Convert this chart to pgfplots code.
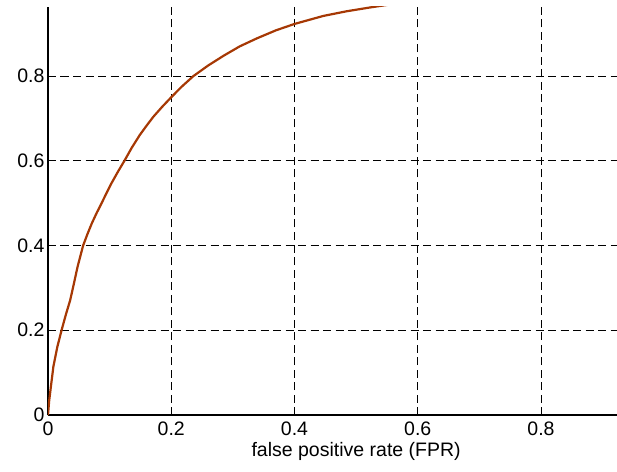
\documentclass[border=0pt]{standalone}
\usepackage{pgfplots}
\pgfplotsset{compat=1.18}
\usepackage{fontspec}
\setmainfont{Liberation Sans}
\definecolor{roccurve}{RGB}{166,56,4}
\begin{document}
\begin{tikzpicture}
  % the picture is a crop: the x axis runs to 1, past the right edge
  \path[use as bounding box] (-48pt,-56pt) rectangle (569pt,415pt);
  \begin{axis}[
      at={(0,0)}, anchor=south west,
      scale only axis,
      width=616.25pt, height=408pt,
      xmin=0, xmax=1,
      ymin=0, ymax=0.963,
      axis x line*=bottom, axis y line*=left,
      axis line style={-, line width=1.3pt, black},
      xtick={0,0.2,0.4,0.6,0.8},
      ytick={0,0.2,0.4,0.6,0.8},
      /pgf/number format/assume math mode=true,
      /pgf/number format/fixed,
      tick align=inside,
      major tick length=5pt,
      tick style={black, line width=0.8pt},
      grid=major,
      grid style={black, line width=1pt, dash pattern=on 8pt off 4.5pt},
      tick label style={font=\fontsize{19.5}{23}\selectfont},
      xticklabel style={yshift=-3.5pt},
      xlabel={false positive rate (FPR)},
      xlabel style={font=\fontsize{19.5}{23}\selectfont},
    ]
    \addplot[color=roccurve, line width=2.2pt] coordinates {
        (0,0) (0.002,0.035) (0.0087,0.114) (0.015,0.16) (0.022,0.2) (0.029,0.237)
        (0.036,0.271) (0.042,0.31) (0.048,0.35) (0.057,0.4) (0.064,0.427)
        (0.071,0.452) (0.079,0.477) (0.087,0.50) (0.095,0.524) (0.103,0.547)
        (0.113,0.573) (0.124,0.6) (0.136,0.631) (0.149,0.661) (0.16,0.683)
        (0.171,0.704) (0.185,0.727) (0.2,0.75) (0.217,0.775) (0.236,0.8)
        (0.26,0.825) (0.285,0.848) (0.311,0.870) (0.339,0.889) (0.37,0.908)
        (0.4,0.923) (0.447,0.942) (0.485,0.953) (0.523,0.962) (0.56,0.97)
      };
  \end{axis}
\end{tikzpicture}
\end{document}
